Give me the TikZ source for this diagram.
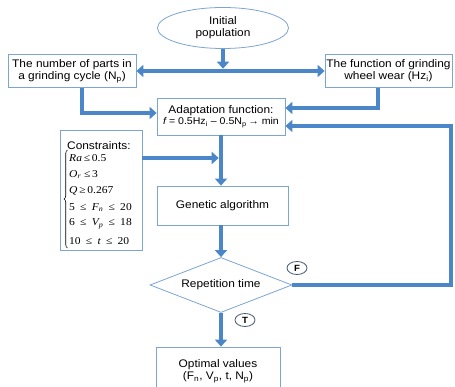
\documentclass[tikz,border=0pt]{standalone}
\usepackage{fontspec}
\setmainfont{Liberation Sans}[FakeStretch=1.08]
\newfontfamily\serifc{Liberation Serif}[FakeStretch=1.1]
\usetikzlibrary{shapes.geometric,arrows.meta,decorations.pathreplacing}
\definecolor{arrowblue}{RGB}{74,134,200}
\definecolor{boxblue}{RGB}{125,165,210}
\definecolor{tagline}{RGB}{70,90,120}
\tikzset{
  box/.style={draw=boxblue, line width=0.8pt, fill=white, align=center, inner sep=0pt, font=\fontsize{11}{12}\selectfont},
  flow/.style={draw=arrowblue, line width=4.6pt, -{Triangle[length=7pt,width=12pt]}},
  flowtwo/.style={draw=arrowblue, line width=4.6pt, {Triangle[length=7pt,width=12pt]}-{Triangle[length=7pt,width=12pt]}},
  tag/.style={ellipse, draw=tagline, line width=0.8pt, fill=white, inner sep=0pt, minimum width=20pt, minimum height=13pt, font=\fontsize{9}{9}\selectfont\bfseries},
  cline/.style={anchor=west, inner sep=0pt, font=\serifc\fontsize{10.5}{12}\selectfont}
}
\begin{document}
\begin{tikzpicture}[x=1pt,y=-1pt]
\useasboundingbox (0,0) rectangle (455,387);
\fill[white] (0,0) rectangle (455,387);

% nodes
\node[box, ellipse, minimum width=131pt, minimum height=41pt] (ell) at (223,28) {Initial\\population};
\node[box, minimum width=128pt, minimum height=33pt] (np) at (72,71) {The number of parts in\\a grinding cycle (N\textsubscript{p})};
\node[box, minimum width=127pt, minimum height=33pt] (hz) at (388.5,71) {The function of grinding\\wheel wear (Hz\textsubscript{i})};
\node[box, minimum width=128pt, minimum height=37pt] (adapt) at (221,116.5) {Adaptation function:\\[-1pt]{\fontsize{9.8}{10.5}\selectfont\itshape f\upshape\ = 0.5Hz\textsubscript{i} -- 0.5N\textsubscript{p}\,→ min}};
\node[box, minimum width=82pt, minimum height=120pt] (cons) at (101,190) {};
\node[anchor=west, inner sep=0pt, font=\fontsize{11}{12}\selectfont] (ctitle) at (67,145.5) {Constraints:};
\node[cline] (c1) at (69,158) {\itshape Ra\upshape\,≤\,0.5};
\node[cline] (c2) at (69,174.5) {\itshape O\textsubscript{r}\upshape\ ≤\,3};
\node[cline] (c3) at (69,191) {\itshape Q\upshape\,≥\,0.267};
\node[cline] (c4) at (69,207.5) {5\enspace≤\enspace\itshape F\textsubscript{n}\upshape\enspace≤\enspace20};
\node[cline] (c5) at (69,224) {6\enspace≤\enspace\itshape V\textsubscript{p}\upshape\enspace≤\enspace18};
\node[cline] (c6) at (69,241) {10\enspace≤\enspace\itshape t\upshape\enspace≤\enspace20};
\draw[line width=0.6pt, decorate, decoration={brace, amplitude=3.5pt}] (67.5,248) -- (67.5,150);
\node[box, minimum width=131pt, minimum height=39pt] (gen) at (222.5,205.5) {Genetic algorithm};
\node[box, diamond, shape aspect=2.58, minimum width=142pt, minimum height=55pt] (dia) at (221,285) {Repetition time};
\node[box, minimum width=124pt, minimum height=48pt] (opt) at (218,371) {Optimal values\\(F\textsubscript{n}, V\textsubscript{p}, t, N\textsubscript{p})};
\node[tag] (tf) at (297,268) {F};
\node[tag] (tt) at (245,320) {T};

% coordinates
\coordinate (bar) at ([yshift=2.3pt]ell.south |- np.east);
\coordinate (fbc) at (451,200);
\coordinate (cs) at ([yshift=32pt]cons.east);
\coordinate (cj) at ([xshift=-2.3pt]adapt.south);

% connectors
\draw[flow] (ell.south) -- (bar);
\draw[flowtwo] (np.east) -- (hz.west);
\draw[flow] ([xshift=10pt]np.south) |- ([yshift=3.5pt]adapt.west);
\draw[flow] ([xshift=-10.5pt]hz.south) |- ([yshift=8.5pt]adapt.east);
\draw[flow] (dia.east) -| (fbc) |- ([yshift=-9.5pt]adapt.east);
\draw[flow] (adapt.south) -- (adapt.south |- gen.north);
\draw[flow] (cs) -- (cs -| cj);
\draw[flow] (gen.south -| dia.north) -- (dia.north);
\draw[flow] (dia.south) -- (dia.south |- opt.north);
\end{tikzpicture}
\end{document}
